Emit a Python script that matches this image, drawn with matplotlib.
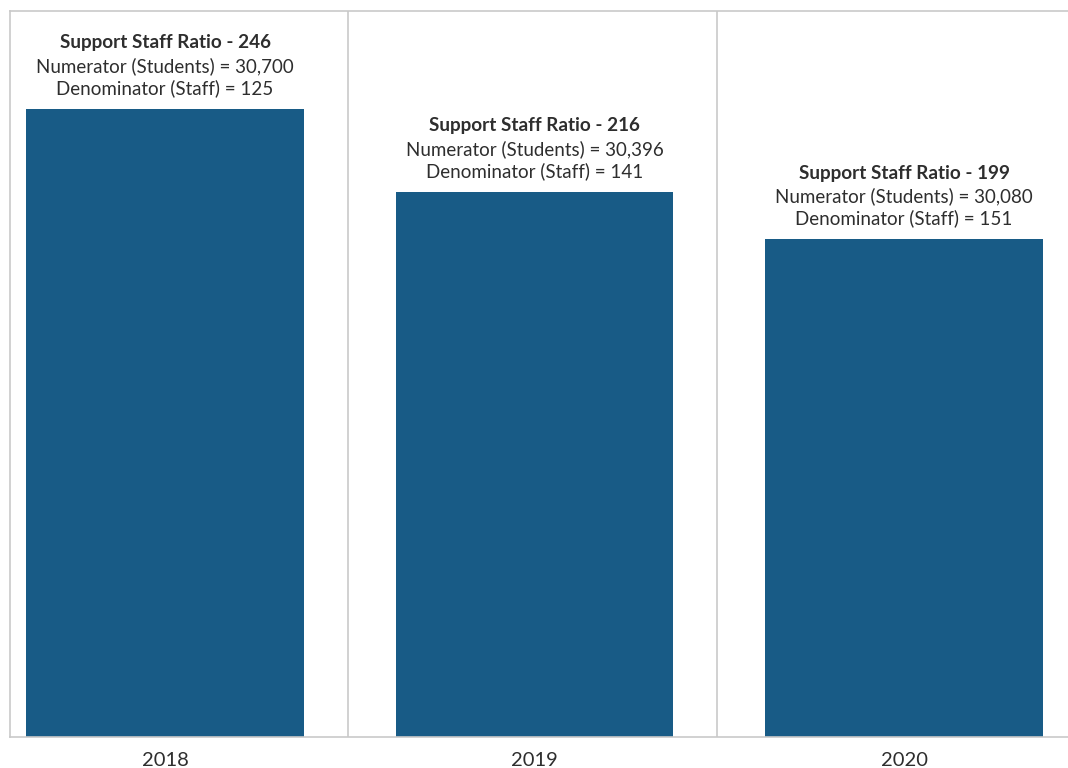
import numpy as np
import matplotlib.pyplot as plt

years = ["2018", "2019", "2020"]
ratios = [246, 216, 199]
students = [30700, 30396, 30080]
staff = [125, 141, 151]

bar_color = "#185b86"
line_color = "#c9c9c9"
text_color = "#2e2e2e"

plt.rcParams['font.family'] = ['Lato', 'DejaVu Sans']

fig = plt.figure(figsize=(10.68, 7.68), dpi=100)
ax = fig.add_axes([10 / 1068, 31 / 768, 1058 / 1068, 726 / 768])

x = np.arange(len(years))
ax.bar(x, ratios, width=0.752, color=bar_color, zorder=2)

ax.set_xlim(-0.4195, 2.4438)
ax.set_ylim(19, 281.4)

# separators between the years
for sep in [0.495, 1.495]:
    ax.axvline(sep, color=line_color, linewidth=1.2, zorder=1)

for side in ["left", "top", "bottom"]:
    ax.spines[side].set_color(line_color)
    ax.spines[side].set_linewidth(1.2)
ax.spines["right"].set_visible(False)

ax.set_yticks([])
ax.set_xticks(x)
ax.set_xticklabels(years, fontsize=14.5, color=text_color)
ax.tick_params(axis="x", length=0, pad=11)

for i in range(len(years)):
    ax.annotate(f"Support Staff Ratio - {ratios[i]}", (x[i], ratios[i]),
                xytext=(0, 47.5), textcoords="offset points", ha="center", va="center",
                fontsize=13.6, fontweight="bold", color=text_color)
    ax.annotate(f"Numerator (Students) = {students[i]:,}", (x[i], ratios[i]),
                xytext=(0, 31), textcoords="offset points", ha="center", va="center",
                fontsize=13.5, color=text_color)
    ax.annotate(f"Denominator (Staff) = {staff[i]}", (x[i], ratios[i]),
                xytext=(0, 14.8), textcoords="offset points", ha="center", va="center",
                fontsize=13.5, color=text_color)

fig.savefig("out.png", dpi=100)
